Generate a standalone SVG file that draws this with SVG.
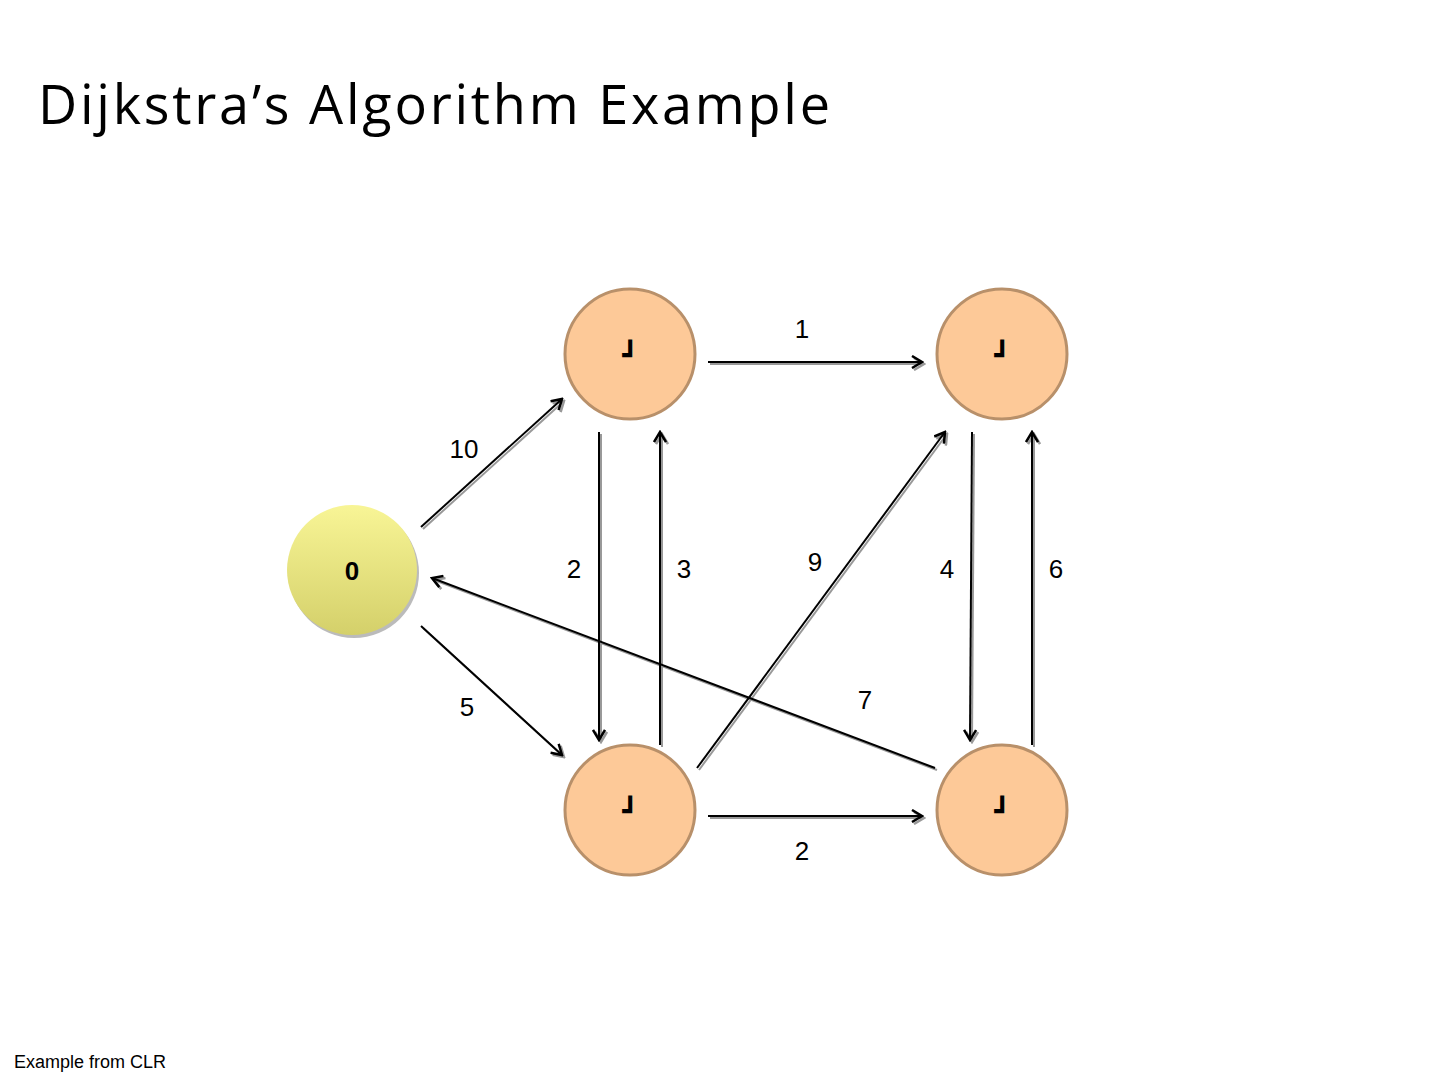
<svg xmlns="http://www.w3.org/2000/svg" width="1440" height="1080" viewBox="0 0 1440 1080">
<style>
.lbl{font-family:"Liberation Sans",Arial,sans-serif;font-size:26px;fill:#000;text-anchor:middle}
.inf{font-family:"DejaVu Sans",sans-serif;font-size:26px;font-weight:bold;fill:#000;text-anchor:middle}
.orange{fill:#fdc998;stroke:#b8906a;stroke-width:3}
.e{stroke:#000;stroke-width:2;fill:none;marker-end:url(#ah)}
.s{stroke:#999;stroke-width:2;fill:none;marker-end:url(#ahs)}
</style>
<defs>
<marker id="ah" markerWidth="14" markerHeight="14" refX="12" refY="7" orient="auto" markerUnits="userSpaceOnUse"><path d="M2,1 L12,7 L2,13" fill="none" stroke="#000" stroke-width="2.5"/></marker>
<marker id="ahs" markerWidth="14" markerHeight="14" refX="12" refY="7" orient="auto" markerUnits="userSpaceOnUse"><path d="M2,1 L12,7 L2,13" fill="none" stroke="#999" stroke-width="2.5"/></marker>
<linearGradient id="yg" x1="0" y1="0" x2="0" y2="1"><stop offset="0" stop-color="#f8f596"/><stop offset="1" stop-color="#d4d06a"/></linearGradient>
</defs>
<rect width="1440" height="1080" fill="#fff"/>
<text x="38" y="124" font-family="'Open Sans','Liberation Sans',sans-serif" font-size="54" textLength="792" fill="#000">Dijkstra’s Algorithm Example</text>
<text x="14" y="1068" font-family="'Liberation Sans',Arial,sans-serif" font-size="18" fill="#000">Example from CLR</text>
<g id="connectors">
<g transform="translate(2,2)">
<line class="s" x1="421" y1="527" x2="562" y2="399"/>
<line class="s" x1="708" y1="362" x2="922" y2="362"/>
<line class="s" x1="599" y1="432" x2="599" y2="740"/>
<line class="s" x1="660" y1="745" x2="660" y2="432"/>
<line class="s" x1="697" y1="768" x2="945" y2="432"/>
<line class="s" x1="972" y1="432" x2="970" y2="740"/>
<line class="s" x1="1032" y1="745" x2="1032" y2="432"/>
<line class="s" x1="935" y1="768" x2="432" y2="578"/>
<line class="s" x1="421" y1="626" x2="562" y2="755"/>
<line class="s" x1="708" y1="816" x2="922" y2="816"/>
</g>
<line class="e" x1="421" y1="527" x2="562" y2="399"/>
<line class="e" x1="708" y1="362" x2="922" y2="362"/>
<line class="e" x1="599" y1="432" x2="599" y2="740"/>
<line class="e" x1="660" y1="745" x2="660" y2="432"/>
<line class="e" x1="697" y1="768" x2="945" y2="432"/>
<line class="e" x1="972" y1="432" x2="970" y2="740"/>
<line class="e" x1="1032" y1="745" x2="1032" y2="432"/>
<line class="e" x1="935" y1="768" x2="432" y2="578"/>
<line class="e" x1="421" y1="626" x2="562" y2="755"/>
<line class="e" x1="708" y1="816" x2="922" y2="816"/>
<text class="lbl" x="802" y="338">1</text>
<text class="lbl" x="464" y="458">10</text>
<text class="lbl" x="574" y="578">2</text>
<text class="lbl" x="684" y="578">3</text>
<text class="lbl" x="815" y="571">9</text>
<text class="lbl" x="947" y="578">4</text>
<text class="lbl" x="1056" y="578">6</text>
<text class="lbl" x="865" y="709">7</text>
<text class="lbl" x="467" y="716">5</text>
<text class="lbl" x="802" y="860">2</text>
</g>
<g id="s"><circle cx="354" cy="573" r="65" fill="#bbb"/><circle cx="352" cy="570" r="65" fill="url(#yg)"/><text x="352" y="580" font-family="'Liberation Sans',Arial,sans-serif" font-weight="bold" font-size="26" text-anchor="middle">0</text></g>
<g id="t"><circle class="orange" cx="630" cy="354" r="65"/><text class="inf" x="630" y="364">┛</text></g>
<g id="x"><circle class="orange" cx="1002" cy="354" r="65"/><text class="inf" x="1002" y="364">┛</text></g>
<g id="y"><circle class="orange" cx="630" cy="810" r="65"/><text class="inf" x="630" y="820">┛</text></g>
<g id="z"><circle class="orange" cx="1002" cy="810" r="65"/><text class="inf" x="1002" y="820">┛</text></g>
</svg>
